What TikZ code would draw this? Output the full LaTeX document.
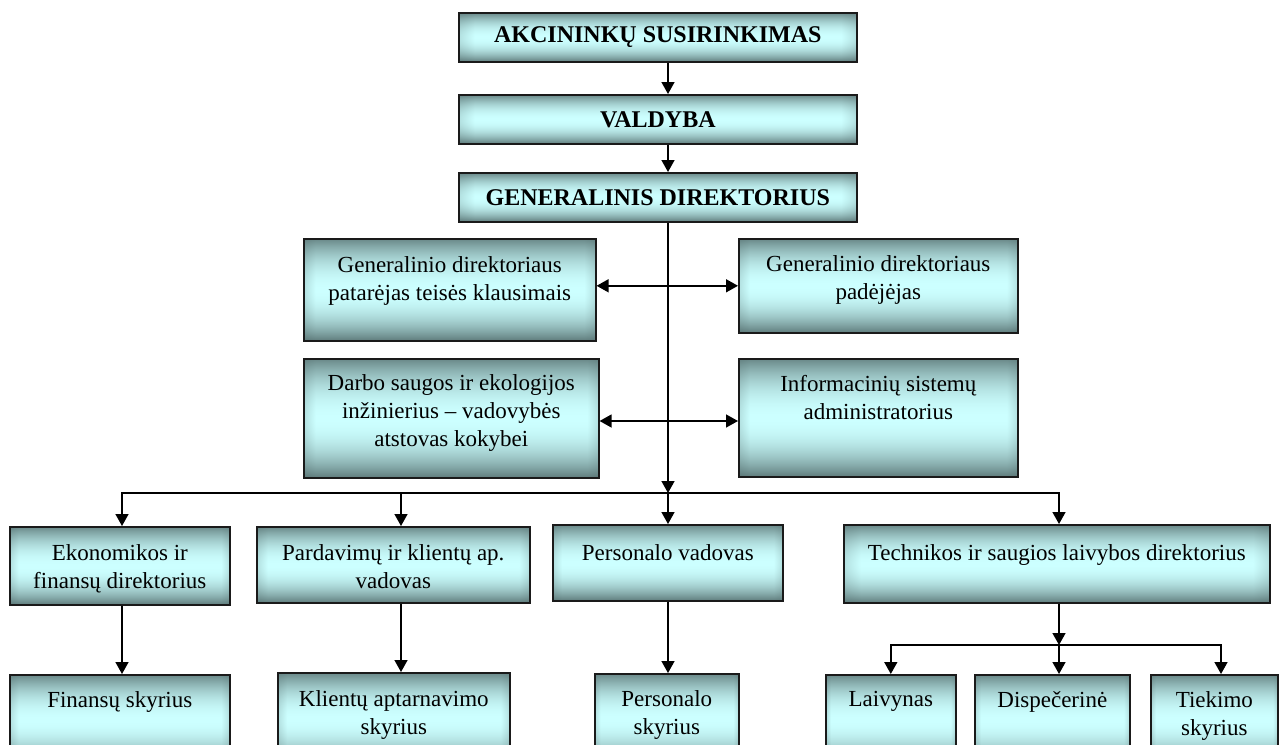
\documentclass[tikz,border=0pt]{standalone}
\usepackage{fontspec}
\setmainfont{Liberation Serif}
\usetikzlibrary{arrows.meta}
\definecolor{cLine}{HTML}{1A1A1A}
% vertical teal gradient (dark top/bottom, light cyan band) with slightly darker side edges
% (TikZ fits the path to the central 25bp..75bp part of the shading)
\pgfdeclarefunctionalshading{tealbox}{\pgfpoint{0bp}{0bp}}{\pgfpoint{100bp}{100bp}}{}{
  25 sub 2 mul exch 25 sub 2 mul exch
  dup 50 lt { 50 exch sub 54 div } { 50 sub 57 div } ifelse
  dup 1 gt { pop 1 } if
  dup mul 1 exch sub
  exch
  dup 100 exch sub
  2 copy gt {exch} if pop
  0 2 copy lt {exch} if pop
  4 div 1 2 copy gt {exch} if pop
  0.2 mul 0.8 add mul
  dup 128 mul 76 add 255 div exch
  dup 154 mul 101 add 255 div exch
  154 mul 101 add 255 div
}
\tikzset{
  box/.style={draw=cLine, line width=1.6pt, shading=tealbox, inner sep=0pt, anchor=north west},
  ttl/.style={font=\fontsize{24}{28}\selectfont\bfseries, inner sep=0pt},
  txt/.style={font=\fontsize{23}{28}\selectfont, align=center, inner sep=0pt, anchor=north},
  arr/.style={draw=black, line width=1.5pt, -{Triangle[length=12pt,width=13pt]}},
  darr/.style={draw=black, line width=1.5pt, {Triangle[length=12pt,width=13pt]}-{Triangle[length=12pt,width=13pt]}},
}
\begin{document}
\begin{tikzpicture}[x=1pt,y=-1pt]
\useasboundingbox (0,0) rectangle (1279,744);
\clip (0,0) rectangle (1279,744);
\fill[white] (0,0) rectangle (1279,744);
% reference coordinates for connector lines
\coordinate (mx) at (668,0);
\coordinate (ax1) at (122,0);
\coordinate (ax2) at (401,0);
\coordinate (ax4) at (1059,0);
\coordinate (ax6) at (1221,0);
\coordinate (bus) at (0,493);
\coordinate (sbus) at (0,645);
\coordinate (r2) at (0,421);
% top boxes
\node[box, minimum width=398pt, minimum height=49pt] (akc) at (458,12) {};
\node[ttl] (akcT) at (akc.center) {AKCININKŲ SUSIRINKIMAS};
\node[box, minimum width=398pt, minimum height=49pt] (val) at (458,94) {};
\node[ttl] (valT) at (val.center) {VALDYBA};
\node[box, minimum width=398pt, minimum height=49pt] (gen) at (458,172) {};
\node[ttl] (genT) at (gen.center) {GENERALINIS DIREKTORIUS};
% staff boxes
\node[box, minimum width=292pt, minimum height=102pt] (pat) at (303,238) {};
\node[txt] (patT) at ([yshift=-18pt]pat.north) {Generalinio direktoriaus\\patarėjas teisės klausimais};
\node[box, minimum width=279pt, minimum height=94pt] (pad) at (738,238) {};
\node[txt] (padT) at ([yshift=-17pt]pad.north) {Generalinio direktoriaus\\padėjėjas};
\node[box, minimum width=295pt, minimum height=119pt] (darb) at (303,358) {};
\node[txt] (darbT) at ([yshift=-16pt]darb.north) {Darbo saugos ir ekologijos\\inžinierius – vadovybės\\atstovas kokybei};
\node[box, minimum width=279pt, minimum height=118pt] (inf) at (738,358) {};
\node[txt] (infT) at ([yshift=-17pt]inf.north) {Informacinių sistemų\\administratorius};
% directors
\node[box, minimum width=220pt, minimum height=78pt] (eko) at (9,526) {};
\node[txt] (ekoT) at ([yshift=-18pt]eko.north) {Ekonomikos ir\\finansų direktorius};
\node[box, minimum width=273pt, minimum height=76pt] (par) at (256,526) {};
\node[txt] (parT) at ([yshift=-18pt]par.north) {Pardavimų ir klientų ap.\\vadovas};
\node[box, minimum width=230pt, minimum height=76pt] (per) at (552,524) {};
\node[txt] (perT) at ([yshift=-20pt]per.north) {Personalo vadovas};
\node[box, minimum width=426pt, minimum height=78pt] (tec) at (843,524) {};
\node[txt] (tecT) at ([yshift=-20pt]tec.north) {Technikos ir saugios laivybos direktorius};
% departments
\node[box, minimum width=220pt, minimum height=90pt] (fin) at (9,674) {};
\node[txt] (finT) at ([yshift=-17pt]fin.north) {Finansų skyrius};
\node[box, minimum width=232pt, minimum height=92pt] (kli) at (277,672) {};
\node[txt] (kliT) at ([yshift=-18pt]kli.north) {Klientų aptarnavimo\\skyrius};
\node[box, minimum width=144pt, minimum height=90pt] (pers) at (594,673) {};
\node[txt] (persT) at ([yshift=-17pt]pers.north) {Personalo\\skyrius};
\node[box, minimum width=130pt, minimum height=90pt] (lai) at (825,674) {};
\node[txt] (laiT) at ([yshift=-17pt]lai.north) {Laivynas};
\node[box, minimum width=155pt, minimum height=90pt] (dis) at (974,674) {};
\node[txt] (disT) at ([yshift=-17pt]dis.north) {Dispečerinė};
\node[box, minimum width=127pt, minimum height=90pt] (tie) at (1150,674) {};
\node[txt] (tieT) at ([yshift=-17pt]tie.north) {Tiekimo\\skyrius};
% connectors
\draw[arr] (akc.south -| mx) -- (val.north -| mx);
\draw[arr] (val.south -| mx) -- (gen.north -| mx);
\draw[arr] (gen.south -| mx) -- (bus -| mx);
\draw[arr] (bus -| mx) -- (per.north -| mx);
\draw[darr] (pad.west -| pat.east) -- (pad.west);
\draw[darr] (r2 -| darb.east) -- (r2 -| inf.west);
\draw[arr] (bus -| mx) -| (eko.north -| ax1);
\draw[arr] (bus -| mx) -| (tec.north -| ax4);
\draw[arr] (bus -| ax2) -- (par.north -| ax2);
\draw[arr] (eko.south -| ax1) -- (fin.north -| ax1);
\draw[arr] (par.south -| ax2) -- (kli.north -| ax2);
\draw[arr] (per.south -| mx) -- (pers.north -| mx);
\draw[arr] (tec.south -| ax4) -- (sbus -| ax4);
\draw[arr] (sbus -| ax4) -| (lai.north);
\draw[arr] (sbus -| ax4) -- (dis.north -| ax4);
\draw[arr] (sbus -| ax4) -| (tie.north -| ax6);
\end{tikzpicture}
\end{document}
